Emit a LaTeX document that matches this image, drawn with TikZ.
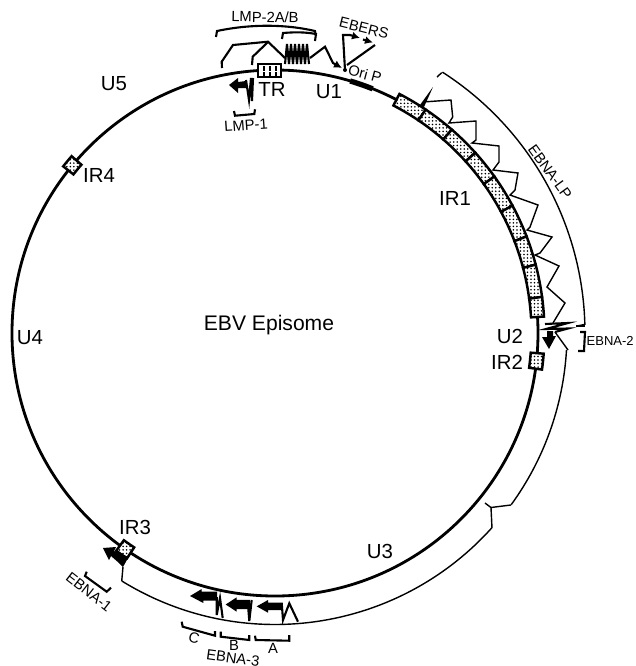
\documentclass[tikz,border=0pt]{standalone}
\usepackage{fontspec}
\setmainfont{Liberation Sans}
\usetikzlibrary{patterns.meta,arrows.meta}
\tikzset{
    genome/.style={line width=0.8pt},
    transcript/.style={line width=0.4pt},
    exon/.style={line width=0.6pt},
    smalltip/.style={-{Latex[length=0.8mm,width=0.8mm]}},
    irbox/.style={line width=0.7pt,preaction={fill=white},pattern={Dots[distance=1pt,radius=0.25pt]}},
    biglabel/.style={font=\fontsize{5.8}{7}\selectfont,inner sep=0pt},
    smalllabel/.style={font=\fontsize{4.2}{5}\selectfont,inner sep=0pt}
}
\begin{document}
\begin{tikzpicture}[x=0.01cm,y=0.01cm,yscale=-1]
    \useasboundingbox (0,0) rectangle (635,666);
    \begin{scope}[shift={(275,333)}]
        \draw[genome] (0,0) circle [radius=263];
        % OriP
        \draw[line width=1.5pt] (-73.4:263) arc [start angle=-73.4,end angle=-68.2,radius=263];
        % IR1 copies
        \foreach \a/\b in {-62.5/-56,-56/-49,-49/-42,-42/-35.5,-35.5/-28.2,-28.2/-21,-21/-14.7,-14.7/-7.7,-7.7/-3.5}{
            \draw[irbox] (\a:256.5) arc [start angle=\a,end angle=\b,radius=256.5] -- (\b:269.5) arc [start angle=\b,end angle=\a,radius=269.5] -- cycle;
        }
        % IR2, IR3, IR4
        \foreach \a/\b in {4.4/7.8,123.3/126.1,218.2/221}{
            \draw[irbox] (\a:256.5) arc [start angle=\a,end angle=\b,radius=256.5] -- (\b:269.5) arc [start angle=\b,end angle=\a,radius=269.5] -- cycle;
        }
        % EBNA-LP bracket
        \draw[transcript] (-57.3:310) arc [start angle=-57.3,end angle=-1.5,radius=310];
        % long EBNA transcript
        \draw[transcript] (3.3:292) arc [start angle=3.3,end angle=36,radius=292];
        \draw[transcript] (41.9:291.5) arc [start angle=41.9,end angle=121.7,radius=291.5];
    \end{scope}
    \draw[transcript] (437,77) -- (441.7,72.7);
    \draw[transcript] (584.5,324.5) -- (577,326);
    % TR
    \draw[line width=0.7pt,fill=white] (258,64) rectangle (281,77);
    \foreach \x in {264,270,276} \draw[line width=0.7pt,dash pattern=on 1.3pt off 0.5pt] (\x,66) -- (\x,75.5);
    % LMP-2A/B
    \draw[exon] (216,37) -- (217,31) .. controls (250,24) and (285,24) .. (315,31) -- (316,36);
    \draw[exon] (282,39) -- (283,33) .. controls (295,32) and (305,32) .. (316,34) -- (315,41);
    \draw[exon] (222,68) -- (221.7,61.7) -- (233,45) -- (268,41.7) -- (285,58);
    \draw[exon] (252,65) -- (252.7,56.7) -- (268,42);
    \foreach \x in {285,289,...,305} \draw[exon] (\x,64) -- (\x+2,44) -- (\x+4,64);
    \draw[exon,smalltip] (310,58) -- (325,46.7) -- (333,63) -- (342,68);
    % LMP-1
    \fill (229,85) -- (238,78) -- (238,82) -- (246,81) -- (246,88) -- (238,88) -- (238,93) -- cycle;
    \draw[exon] (246,80) -- (249,100) -- (251,78) -- (252,101) -- (253,78);
    \draw[exon] (234,111) -- (235,115.7) -- (254.3,114) -- (255,109.3);
    % EBERS
    \fill (345,70) circle [radius=2];
    \draw[exon] (345,70) -- (343,35) -- (350,35);
    \draw[exon,smalltip] (350,35) -- (360,38);
    \draw[exon,smalltip] (363,39.5) -- (373,42.5);
    \draw[exon] (375,45) -- (347,65);
    % EBNA-LP
    \fill (420,105) -- (433,87) -- (424,107) -- cycle;
    \draw[transcript] (423,102) -- (451,100) -- (452.7,117) -- (449,123) -- (476,121) -- (476,140) -- (472,143) -- (499,146) -- (499,162) -- (493,170) -- (518,173) -- (515,190) -- (510,195) -- (538,205) -- (530,227) -- (527,230) -- (552,237) -- (540,253) -- (535,255) -- (559,266) -- (547,287) -- (565,303) -- (553,323);
    % EBNA-2
    \draw[exon] (545,324) -- (568,323) -- (546,329) -- (568,328.5) -- (555,332);
    \fill (549,349) -- (542,337) -- (547,337) -- (547,331) -- (553,331) -- (553,336) -- (556,336) -- cycle;
    \draw[transcript] (555,332) -- (568,350);
    \draw[exon] (576,326) -- (585,326);
    \draw[exon] (580,332) -- (585,332) -- (584,351) -- (578,351);
    % U3 junction
    \draw[transcript] (511,505) -- (491,507.5) -- (485,503);
    \draw[transcript] (491,507.5) -- (492,528);
    % EBNA-1
    \fill (103,548) -- (116,547) -- (114,551) -- (126,556) -- (128,558) -- (123,567) -- (119,563) -- (111,556) -- (109,560) -- cycle;
    \draw[transcript] (123,567) -- (121.7,581);
    \draw[exon] (86.7,571.7) -- (85,576) -- (106.7,591.7) -- (111,587.7);
    % EBNA-3
    \foreach \tip/\topx/\topy/\botx/\boty/\endx in {256.7/268/600/268/612.7/282.7,225.7/236.7/597.3/236.7/611.7/250,190/201.7/589/203.3/603/217}{
        \fill (\tip,{(\topy+\boty)/2}) -- (\topx,\topy) -- (\topx,\topy+2.5) -- (\endx,\topy+2.5) -- (\endx,\boty-2.5) -- (\botx,\boty-2.5) -- (\botx,\boty) -- cycle;
    }
    \draw[exon] (298,621.7) -- (289.3,603.3) -- (283,620) -- (281.7,603);
    \draw[exon] (251.7,600) -- (249.3,621) -- (248,605);
    \draw[exon] (216.7,597) -- (216.7,615) -- (220,598) -- (222.7,618);
    \draw[exon] (181.7,621.7) -- (182.7,626.7) -- (215,635.7) -- (215,631);
    \draw[exon] (220.7,631.7) -- (220.7,636.7) -- (249.3,640) -- (249.3,635);
    \draw[exon] (255,635.7) -- (255.7,640) -- (289.3,640.7) -- (289.3,635);
    % labels
    \node[biglabel,font=\fontsize{6}{7}\selectfont] (episome) at (269,325) {EBV Episome};
    \node[biglabel] (ufive) at (114,84) {U5};
    \node[biglabel] (uone) at (329,92) {U1};
    \node[biglabel] (tr) at (272,89) {TR};
    \node[biglabel] (irone) at (455,198) {IR1};
    \node[biglabel] (utwo) at (510,336) {U2};
    \node[biglabel] (irtwo) at (507,362) {IR2};
    \node[biglabel] (uthree) at (380,551) {U3};
    \node[biglabel] (irthree) at (135,527) {IR3};
    \node[biglabel] (ufour) at (30,338) {U4};
    \node[biglabel] (irfour) at (99,175) {IR4};
    \node[smalllabel] (lmptwo) at (265,17) [rotate=-1] {LMP-2A/B};
    \node[smalllabel] (lmpone) at (246,125) [rotate=4] {LMP-1};
    \node[smalllabel] (ebers) at (364,28) [rotate=-14] {EBERS};
    \node[smalllabel] (orip) at (365,74) [rotate=-15] {Ori P};
    \node[smalllabel] (ebnalp) at (550,172) [rotate=-54] {EBNA-LP};
    \node[smalllabel,font=\fontsize{3.7}{5}\selectfont,anchor=west] (ebnatwo) at (586,341) {EBNA-2};
    \node[smalllabel] (ebnaone) at (89,592) [rotate=-38] {EBNA-1};
    \node[smalllabel] (ebnathree) at (233,658) [rotate=-8] {EBNA-3};
    \node[smalllabel] (labc) at (194,638) [rotate=-15] {C};
    \node[smalllabel] (labb) at (234,645) {B};
    \node[smalllabel] (laba) at (273,648) {A};
\end{tikzpicture}
\end{document}
